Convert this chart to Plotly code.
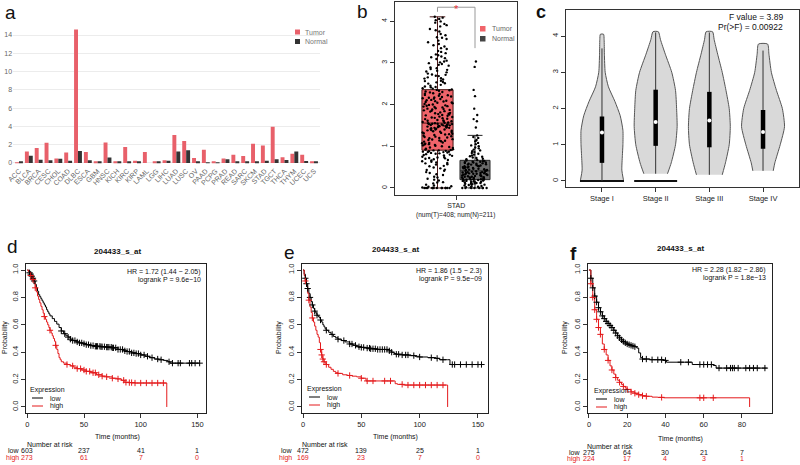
import plotly.graph_objects as go
import numpy as np

W, H = 800, 465
FONT = "Liberation Sans"


def px(x):
    return x / W


def py(y):
    return 1 - y / H


# ---------------- Panel a data ----------------
cancers = ["ACC", "BLCA", "BRCA", "CESC", "CHOL", "COAD", "DLBC", "ESCA", "GBM", "HNSC",
           "KICH", "KIRC", "KIRP", "LAML", "LGG", "LIHC", "LUAD", "LUSC", "OV", "PAAD",
           "PCPG", "PRAD", "READ", "SARC", "SKCM", "STAD", "TGCT", "THCA", "THYM", "UCEC", "UCS"]
tumor_expr = [0.06, 1.25, 1.65, 2.2, 0.5, 1.15, 14.6, 1.2, 0.15, 2.25, 0.12, 1.75, 0.25, 1.2,
              0.1, 0.3, 3.05, 2.4, 0.55, 1.45, 0.08, 0.5, 0.9, 0.75, 2.1, 1.9, 3.95, 0.62,
              1.0, 0.9, 0.18]
normal_expr = [0.1, 0.8, 0.35, 0.3, 0.45, 0.25, 1.3, 0.3, 0.1, 0.6, 0.1, 0.15, 0.15, 0.0,
               0.08, 0.25, 1.25, 1.4, 0.15, 0.05, 0.05, 0.4, 0.2, 0.15, 0.1, 0.25, 0.4, 0.33,
               1.25, 0.22, 0.16]
a_yticks = [0, 2, 4, 6, 8, 10, 12, 14]

# ---------------- Panel b data (STAD) ----------------
stad_tumor = [0, 0, 0, 0, 0, 0, 0, 0, 0.03, 0.06, 0.11, 0.13, 0.18, 0.22, 0.27, 0.33, 0.36,
              0.41, 0.44, 0.49, 0.52, 0.57, 0.59, 0.61, 0.64, 0.66, 0.69, 0.71, 0.73, 0.74,
              0.77, 0.79, 0.8, 0.82, 0.83, 0.85, 0.86, 0.87, 0.88, 0.9,
              0, 0, 0, 0, 0, 0.01, 0.04, 0.08, 0.14, 0.2, 0.25, 0.31, 0.38, 0.43, 0.47, 0.53,
              0.56, 0.6, 0.63, 0.67, 0.7, 0.72, 0.75, 0.78, 0.81, 0.84, 0.86, 0.87, 0.89, 0.9,
              0.92, 0.93, 0.96, 0.97, 1.0, 1.01, 1.03, 1.05, 1.07, 1.08, 1.11, 1.12, 1.15,
              1.16, 1.19, 1.2, 1.23, 1.24, 1.27, 1.28, 1.31, 1.32, 1.35, 1.36, 1.38, 1.4,
              1.41, 1.42, 1.44, 1.44, 1.46, 1.47, 1.48, 1.49, 1.5, 1.51, 1.52, 1.53, 1.54, 1.55,
              0.91, 0.94, 0.98, 1.02, 1.04, 1.06, 1.09, 1.13, 1.14, 1.17, 1.21, 1.22, 1.25,
              1.29, 1.3, 1.33, 1.34, 1.37, 1.39, 1.4, 1.43, 1.45, 1.46, 1.48, 1.5, 1.51, 1.52,
              1.53, 1.54, 1.55,
              1.57, 1.58, 1.61, 1.62, 1.65, 1.66, 1.69, 1.7, 1.73, 1.74, 1.77, 1.79, 1.8,
              1.83, 1.85, 1.86, 1.89, 1.9, 1.93, 1.95, 1.97, 1.98, 2.01, 2.03, 2.05, 2.07,
              2.09, 2.1, 2.13, 2.15, 2.17, 2.18, 2.21, 2.23, 2.25, 2.27, 2.29, 2.31, 2.33, 2.35,
              1.56, 1.59, 1.6, 1.63, 1.67, 1.68, 1.71, 1.75, 1.76, 1.78, 1.81, 1.84, 1.87,
              1.88, 1.91, 1.94, 1.96, 1.99, 2.0, 2.04, 2.06, 2.08, 2.11, 2.14, 2.16, 2.19,
              2.22, 2.26, 2.3, 2.34,
              2.38, 2.41, 2.43, 2.47, 2.5, 2.53, 2.56, 2.57, 2.62, 2.65, 2.68, 2.71, 2.74,
              2.77, 2.81, 2.85, 2.89, 2.93, 2.97, 3.01, 3.05, 3.09, 3.13, 3.18, 3.23, 3.26,
              3.33, 3.39, 3.45, 3.49, 3.57, 3.61, 3.69, 3.75, 3.81, 3.87, 3.93, 3.99, 4.05, 4.1,
              2.36, 2.39, 2.42, 2.45, 2.51, 2.54, 2.6, 2.63, 2.69, 2.72, 2.79, 2.83, 2.87,
              2.95, 2.99, 3.03, 3.11, 3.15, 3.2, 3.28, 3.35, 3.42, 3.53, 3.6, 3.66, 3.78, 3.9,
              3.96, 4.02, 4.08]
stad_normal = [0, 0, 0, 0, 0, 0.02, 0.04, 0.05, 0.07, 0.08, 0.1, 0.11, 0.12, 0.13, 0.14,
               0.15, 0.16, 0.17, 0.18, 0.19,
               0, 0, 0, 0.01, 0.03, 0.06, 0.09, 0.1, 0.12, 0.13, 0.15, 0.17, 0.18, 0.19, 0.2,
               0.2, 0.21, 0.22, 0.23, 0.24, 0.25, 0.26, 0.27, 0.28, 0.29, 0.3, 0.31, 0.32,
               0.33, 0.34, 0.35, 0.36, 0.37, 0.38, 0.39,
               0.21, 0.22, 0.24, 0.25, 0.27, 0.28, 0.3, 0.31, 0.33, 0.34, 0.35, 0.36, 0.37,
               0.38, 0.4,
               0.41, 0.42, 0.43, 0.45, 0.46, 0.47, 0.48, 0.5, 0.51, 0.52, 0.53, 0.55, 0.56,
               0.57, 0.58, 0.6, 0.61, 0.62, 0.63, 0.64,
               0.41, 0.43, 0.44, 0.46, 0.48, 0.49, 0.5, 0.52, 0.54, 0.56, 0.58, 0.59, 0.61,
               0.63, 0.65,
               0.67, 0.7, 0.73, 0.76, 0.8, 0.84, 0.88, 0.92, 0.97, 1.02, 1.08, 1.15, 1.22,
               1.45, 1.6, 1.75, 1.9, 2.2, 2.35, 2.9, 3.03,
               0.66, 0.69, 0.72, 0.75, 0.78, 0.82, 0.86, 0.9, 0.95, 1.0, 1.05, 1.12, 1.2,
               1.26, 1.65]
b_yticks = [0, 1, 2, 3, 4]

# ---------------- Panel c data (stages) ----------------
stages = ["Stage I", "Stage II", "Stage III", "Stage IV"]
violin_levels = [
    [0.03, 0.3, 0.7, 1.0, 1.4, 1.8, 2.2, 2.6, 3.0, 3.5, 3.9, 4.05],
    [0.2, 0.5, 1.0, 1.5, 2.0, 2.5, 3.0, 3.5, 3.9, 4.12],
    [0.17, 0.5, 1.0, 1.5, 2.0, 2.5, 3.0, 3.5, 3.9, 4.12],
    [0.28, 0.5, 1.0, 1.5, 2.0, 2.5, 3.0, 3.5, 3.78],
]
violin_halfwidths = [
    [0.40, 0.37, 0.38, 0.39, 0.39, 0.34, 0.24, 0.12, 0.06, 0.045, 0.04, 0.03],
    [0.22, 0.29, 0.37, 0.40, 0.39, 0.37, 0.30, 0.18, 0.09, 0.05],
    [0.24, 0.30, 0.37, 0.39, 0.37, 0.31, 0.24, 0.155, 0.09, 0.06],
    [0.19, 0.22, 0.32, 0.40, 0.36, 0.25, 0.155, 0.11, 0.085],
]
stage_min = [0.0, 0.2, 0.17, 0.28]
stage_q1 = [0.5, 0.97, 0.93, 0.89]
stage_median = [1.34, 1.63, 1.67, 1.35]
stage_q3 = [1.78, 2.52, 2.46, 1.96]
stage_max = [3.66, 4.1, 4.1, 3.6]
zero_cluster_halfwidth = [0.41, 0.40, 0.0, 0.0]
c_yticks = [0, 1, 2, 3, 4]

# ---------------- KM data ----------------
d_low_t = [0, 1, 2, 3, 4, 5, 6, 7, 8, 9, 10, 11, 12, 13, 14, 15, 16, 17, 18, 19, 20, 22, 24,
           26, 28, 30, 32, 34, 36, 38, 40, 43, 46, 49, 52, 56, 60, 65, 70, 75, 80, 85, 88,
           92, 96, 100, 104, 108, 112, 116, 120, 124, 126, 152]
d_low_s = [1.0, 0.99, 0.98, 0.97, 0.955, 0.94, 0.92, 0.895, 0.87, 0.845, 0.82, 0.805, 0.79,
           0.775, 0.76, 0.745, 0.73, 0.71, 0.695, 0.68, 0.665, 0.645, 0.625, 0.605, 0.58,
           0.555, 0.535, 0.52, 0.51, 0.495, 0.485, 0.475, 0.468, 0.462, 0.455, 0.448, 0.443,
           0.44, 0.437, 0.432, 0.42, 0.41, 0.405, 0.395, 0.39, 0.38, 0.37, 0.36, 0.35, 0.345,
           0.34, 0.33, 0.32, 0.32]
d_high_t = [0, 1, 2, 3, 4, 5, 6, 7, 8, 9, 10, 11, 12, 13, 14, 15, 16, 17, 18, 19, 20, 21, 22,
            23, 24, 25, 26, 27, 28, 29, 30, 32, 35, 38, 41, 44, 48, 52, 56, 61, 66, 70, 75,
            79, 83, 86, 90, 95, 100, 110, 123]
d_high_s = [1.0, 0.99, 0.975, 0.96, 0.945, 0.93, 0.9, 0.87, 0.84, 0.81, 0.785, 0.76, 0.735,
            0.71, 0.685, 0.66, 0.64, 0.62, 0.6, 0.58, 0.56, 0.54, 0.52, 0.5, 0.48, 0.45, 0.42,
            0.39, 0.36, 0.345, 0.33, 0.32, 0.31, 0.3, 0.29, 0.28, 0.27, 0.26, 0.25, 0.235,
            0.225, 0.22, 0.21, 0.205, 0.195, 0.18, 0.178, 0.175, 0.175, 0.175, 0.0]
d_low_cens = [2, 3, 4, 5, 6, 30, 33, 36, 38, 40, 42, 44, 46, 48, 50, 52, 54, 56, 58, 60, 61,
              62, 64, 65, 66, 68, 70, 71, 72, 74, 75, 76, 78, 80, 82, 84, 86, 88, 90, 92, 94,
              96, 98, 100, 103, 106, 110, 115, 118, 125, 128, 133, 135, 143, 145, 148, 152]
d_high_cens = [3, 5, 7, 15, 20, 25, 35, 40, 44, 47, 50, 52, 55, 58, 60, 63, 66, 70, 75, 80,
               85, 87, 90, 92, 95, 100, 105, 110, 115, 120]

e_low_t = [0, 1, 2, 3, 4, 5, 6, 7, 8, 9, 10, 11, 12, 13, 14, 15, 16, 17, 18, 19, 20, 22, 24,
           26, 28, 30, 33, 36, 40, 43, 46, 50, 54, 58, 63, 67, 71, 74, 76, 78, 80, 85, 91,
           96, 100, 107, 114, 117, 124, 126, 154]
e_low_s = [1.0, 0.97, 0.94, 0.9, 0.865, 0.83, 0.8, 0.77, 0.745, 0.72, 0.7, 0.685, 0.67, 0.66,
           0.65, 0.635, 0.62, 0.6, 0.585, 0.57, 0.56, 0.545, 0.53, 0.515, 0.505, 0.495, 0.485,
           0.475, 0.46, 0.45, 0.44, 0.435, 0.43, 0.425, 0.42, 0.42, 0.42, 0.41, 0.4, 0.39,
           0.385, 0.38, 0.375, 0.37, 0.365, 0.36, 0.355, 0.345, 0.345, 0.31, 0.31]
e_high_t = [0, 1, 2, 3, 4, 5, 6, 7, 8, 9, 10, 11, 12, 13, 14, 15, 16, 17, 18, 19, 20, 22, 24,
            26, 28, 30, 34, 38, 42, 46, 50, 54, 60, 70, 77, 79, 81, 86, 124]
e_high_s = [1.0, 0.96, 0.92, 0.88, 0.83, 0.78, 0.73, 0.69, 0.65, 0.62, 0.59, 0.56, 0.53, 0.51,
            0.47, 0.42, 0.38, 0.35, 0.33, 0.32, 0.31, 0.29, 0.275, 0.26, 0.25, 0.245, 0.235,
            0.23, 0.225, 0.22, 0.21, 0.19, 0.19, 0.19, 0.19, 0.17, 0.165, 0.16, 0.0]
e_low_cens = [2, 3, 4, 6, 8, 10, 12, 15, 20, 25, 30, 35, 40, 42, 45, 48, 50, 52, 55, 57, 58,
              60, 62, 64, 66, 68, 70, 72, 74, 76, 80, 82, 85, 88, 90, 95, 100, 110, 115, 120,
              128, 130, 135, 140, 145, 150, 153]
e_high_cens = [2, 5, 8, 15, 16, 17, 18, 20, 30, 40, 50, 55, 60, 70, 75, 85, 90, 95, 100, 105,
               110, 115, 120]

f_low_t = [0, 1, 2, 3, 4, 5, 6, 7, 8, 9, 10, 11, 12, 13, 14, 15, 16, 17, 18, 19, 20, 21, 22,
           23, 24, 25, 26, 27, 28, 32, 39, 40.5, 51, 54, 65, 66.5, 93]
f_low_s = [1.0, 0.94, 0.87, 0.81, 0.765, 0.725, 0.695, 0.665, 0.645, 0.625, 0.61, 0.595, 0.58,
           0.56, 0.54, 0.52, 0.505, 0.49, 0.478, 0.468, 0.46, 0.455, 0.45, 0.445, 0.44, 0.43,
           0.395, 0.36, 0.35, 0.345, 0.34, 0.327, 0.327, 0.31, 0.303, 0.284, 0.284]
f_high_t = [0, 1, 2, 3, 4, 5, 6, 7, 8, 9, 10, 11, 12, 13, 14, 15, 16, 17, 18, 19, 20, 22, 24,
            26, 28, 30, 33, 36, 39, 84]
f_high_s = [1.0, 0.9, 0.8, 0.71, 0.64, 0.58, 0.53, 0.46, 0.42, 0.38, 0.34, 0.3, 0.27, 0.24,
            0.215, 0.195, 0.18, 0.165, 0.15, 0.138, 0.128, 0.11, 0.1, 0.09, 0.082, 0.078,
            0.072, 0.07, 0.067, 0.0]
f_low_cens = [1, 2, 3, 4, 5, 6, 7, 8, 9, 10, 11, 12, 13, 14, 15, 16, 17, 18, 19, 20, 21, 22,
              23, 24, 28, 30, 33, 36, 38, 40, 48, 52, 58, 60, 62, 64, 68, 72, 74, 75, 76, 78,
              82, 84, 86, 88, 92]
f_high_cens = [1, 2, 3, 4, 5, 6, 8, 10, 12, 14, 16, 18, 20, 22, 24, 26, 28, 30, 38, 58, 60, 65]

d_risk_t = [0, 50, 100, 150]
d_risk_low = [603, 237, 41, 1]
d_risk_high = [273, 61, 7, 0]
e_risk_t = [0, 50, 100, 150]
e_risk_low = [472, 139, 25, 1]
e_risk_high = [169, 23, 7, 0]
f_risk_t = [0, 20, 40, 60, 80]
f_risk_low = [275, 64, 30, 21, 7]
f_risk_high = [224, 17, 4, 3, 1]

probe = "204433_s_at"
hr_texts = [("HR = 1.72 (1.44 − 2.05)", "logrank P = 9.6e−10"),
            ("HR = 1.86 (1.5 − 2.3)", "logrank P = 9.5e−09"),
            ("HR = 2.28 (1.82 − 2.86)", "logrank P = 1.8e−13")]

RED_BAR = "#E8606A"
DARK_BAR = "#333333"
KM_RED = "#E41A1C"

fig = go.Figure()
annotations = []
shapes = []


def ann(text, x, y, size=8, color="#222", xanchor="center", yanchor="middle", bold=False,
        textangle=0, xref="paper", yref="paper"):
    if bold:
        text = "<b>" + text + "</b>"
    annotations.append(dict(text=text, x=x, y=y, xref=xref, yref=yref, showarrow=False,
                            xanchor=xanchor, yanchor=yanchor, textangle=textangle,
                            font=dict(family=FONT, size=size, color=color)))


# ---------------- Panel a ----------------
fig.add_trace(go.Bar(x=cancers, y=tumor_expr, marker=dict(color=RED_BAR, line=dict(width=0)),
                     xaxis="x", yaxis="y", showlegend=False))
fig.add_trace(go.Bar(x=cancers, y=normal_expr, marker=dict(color=DARK_BAR, line=dict(width=0)),
                     xaxis="x", yaxis="y", showlegend=False))

# ---------------- Panel b ----------------
fig.add_trace(go.Box(y=stad_tumor, x0=1, width=0.83, boxpoints="all", jitter=1, pointpos=0,
                     fillcolor="#F0646A", line=dict(color="#4a1515", width=1),
                     marker=dict(color="black", size=2.4), xaxis="x2", yaxis="y2",
                     showlegend=False, hoverinfo="skip"))
fig.add_trace(go.Box(y=stad_normal, x0=2, width=0.8, boxpoints="all", jitter=1, pointpos=0,
                     fillcolor="#6a6a6a", line=dict(color="#262626", width=1),
                     marker=dict(color="black", size=2.4), xaxis="x2", yaxis="y2",
                     showlegend=False, hoverinfo="skip"))

# ---------------- Panel c ----------------
for i, st in enumerate(stages):
    c = i + 1
    lv = violin_levels[i]
    hw = violin_halfwidths[i]
    xs = [c - w for w in hw] + [c + w for w in hw[::-1]]
    ys = lv + lv[::-1]
    fig.add_trace(go.Scatter(x=xs, y=ys, mode="lines", fill="toself", fillcolor="#d9d9d9",
                             line=dict(color="#555555", width=1, shape="spline", smoothing=0.6),
                             xaxis="x3", yaxis="y3", showlegend=False, hoverinfo="skip"))
    if zero_cluster_halfwidth[i] > 0:
        z = zero_cluster_halfwidth[i]
        fig.add_trace(go.Scatter(x=[c - z, c + z], y=[0, 0], mode="lines",
                                 line=dict(color="#111111", width=2.2),
                                 xaxis="x3", yaxis="y3", showlegend=False, hoverinfo="skip"))
    fig.add_trace(go.Scatter(x=[c, c], y=[stage_min[i], stage_max[i]], mode="lines",
                             line=dict(color="#333333", width=1),
                             xaxis="x3", yaxis="y3", showlegend=False, hoverinfo="skip"))
    fig.add_trace(go.Scatter(x=[c, c], y=[stage_q1[i], stage_q3[i]], mode="lines",
                             line=dict(color="black", width=4.5),
                             xaxis="x3", yaxis="y3", showlegend=False, hoverinfo="skip"))
    fig.add_trace(go.Scatter(x=[c], y=[stage_median[i]], mode="markers",
                             marker=dict(color="white", size=4, symbol="circle"),
                             xaxis="x3", yaxis="y3", showlegend=False, hoverinfo="skip"))


# ---------------- KM panels ----------------
def step_at(times, surv, t):
    idx = np.searchsorted(np.array(times), t, side="right") - 1
    idx = np.clip(idx, 0, len(surv) - 1)
    return [surv[k] for k in idx]


km_sets = [
    ("x4", "y4", d_low_t, d_low_s, d_high_t, d_high_s, d_low_cens, d_high_cens),
    ("x5", "y5", e_low_t, e_low_s, e_high_t, e_high_s, e_low_cens, e_high_cens),
    ("x6", "y6", f_low_t, f_low_s, f_high_t, f_high_s, f_low_cens, f_high_cens),
]
for xa, ya, lt, ls, ht, hs, lc, hc in km_sets:
    fig.add_trace(go.Scatter(x=lt, y=ls, mode="lines", line=dict(color="black", width=1, shape="hv"),
                             xaxis=xa, yaxis=ya, showlegend=False, hoverinfo="skip"))
    fig.add_trace(go.Scatter(x=ht, y=hs, mode="lines", line=dict(color=KM_RED, width=1, shape="hv"),
                             xaxis=xa, yaxis=ya, showlegend=False, hoverinfo="skip"))
    fig.add_trace(go.Scatter(x=lc, y=step_at(lt, ls, lc), mode="markers",
                             marker=dict(symbol="cross-thin", size=4.5, line=dict(color="black", width=1)),
                             xaxis=xa, yaxis=ya, showlegend=False, hoverinfo="skip"))
    hc_valid = [t for t in hc if t < ht[-1]]
    fig.add_trace(go.Scatter(x=hc_valid, y=step_at(ht, hs, hc_valid), mode="markers",
                             marker=dict(symbol="cross-thin", size=4.5, line=dict(color=KM_RED, width=1)),
                             xaxis=xa, yaxis=ya, showlegend=False, hoverinfo="skip"))

# ---------------- Layout axes ----------------
tickfont_a = dict(family=FONT, size=7, color="#666666")
tickfont_r = dict(family=FONT, size=7.5, color="#222222")

layout = dict(
    width=W, height=H, margin=dict(l=0, r=0, t=0, b=0),
    paper_bgcolor="white", plot_bgcolor="white", template="none",
    barmode="group", bargap=0.2, bargroupgap=0.0, boxmode="overlay",
    showlegend=False,
)
# a
layout["xaxis"] = dict(domain=[px(13.1), px(319.9)], type="category", tickangle=-45,
                       tickfont=tickfont_a, showgrid=False, zeroline=False, showline=False,
                       ticks="", anchor="y", automargin=False, range=[-0.6, 30.6])
layout["yaxis"] = dict(domain=[py(164.8), py(21.3)], range=[-0.2, 15.5], tickvals=a_yticks,
                       tickfont=tickfont_a, showgrid=True, gridcolor="#ececec", gridwidth=1,
                       zeroline=False, showline=False, ticks="", anchor="x", automargin=False)
# b
frame = dict(showline=True, mirror=True, linecolor="#333333", linewidth=1, zeroline=False,
             showgrid=False, ticks="outside", ticklen=4, tickcolor="#333333", automargin=False)
layout["xaxis2"] = dict(domain=[px(395), px(517)], range=[-0.133, 3.12], tickvals=[1.5],
                        ticktext=["STAD"], tickfont=dict(family=FONT, size=7, color="#222"),
                        anchor="y2", **frame)
layout["yaxis2"] = dict(domain=[py(195), py(2)], range=[-0.168, 4.455], tickvals=b_yticks,
                        tickangle=-90, tickfont=dict(family=FONT, size=7, color="#222"),
                        anchor="x2", **frame)
# c
frame_c = dict(frame)
frame_c["linewidth"] = 1.3
layout["xaxis3"] = dict(domain=[px(566), px(799)], range=[0.33, 4.67], tickvals=[1, 2, 3, 4],
                        ticktext=stages, tickfont=dict(family=FONT, size=7.5, color="#222"),
                        anchor="y3", **frame_c)
layout["yaxis3"] = dict(domain=[py(187), py(10)], range=[-0.166, 4.72], tickvals=c_yticks,
                        tickangle=-90, tickfont=dict(family=FONT, size=7.5, color="#222"),
                        anchor="x3", **frame_c)
# KM
km_geom = [
    ("xaxis4", "yaxis4", "x4", "y4", 26, 206, [-1.15, 157.6], [0, 50, 100, 150]),
    ("xaxis5", "yaxis5", "x5", "y5", 302, 488, [-0.86, 158.6], [0, 50, 100, 150]),
    ("xaxis6", "yaxis6", "x6", "y6", 588, 772, [-0.5, 95.7], [0, 20, 40, 60, 80]),
]
frame_k = dict(frame)
frame_k["linecolor"] = "#222222"
for xk, yk, xr, yr, x0, x1, xrange, xt in km_geom:
    layout[xk] = dict(domain=[px(x0), px(x1)], range=xrange, tickvals=xt, tickfont=tickfont_r,
                      anchor=yr, **frame_k)
    layout[yk] = dict(domain=[py(413), py(264)], range=[-0.044, 1.044],
                      tickvals=[0, 0.2, 0.4, 0.6, 0.8, 1.0],
                      ticktext=["0.0", "0.2", "0.4", "0.6", "0.8", "1.0"], tickangle=-90,
                      tickfont=tickfont_r, anchor=xr, **frame_k)

# ---------------- Annotations & legend keys ----------------
ann("a", px(10), py(13), size=19, color="#111")
ann("b", px(362), py(11), size=19, color="#111")
ann("c", px(541), py(12), size=18, color="#111", bold=True)
ann("d", px(12), py(246), size=19, color="#111")
ann("e", px(289), py(252), size=19, color="#111")
ann("f", px(573), py(253), size=19, color="#111", bold=True)

# panel a legend
shapes.append(dict(type="rect", xref="paper", yref="paper", x0=px(295), x1=px(300),
                   y0=py(34.5), y1=py(29.5), fillcolor=RED_BAR, line=dict(width=0)))
shapes.append(dict(type="rect", xref="paper", yref="paper", x0=px(295), x1=px(300),
                   y0=py(44), y1=py(39), fillcolor=DARK_BAR, line=dict(width=0)))
ann("Tumor", px(303), py(32), size=7, color="#777", xanchor="left")
ann("Normal", px(303), py(41.5), size=7, color="#777", xanchor="left")

# panel b legend
shapes.append(dict(type="rect", xref="paper", yref="paper", x0=px(480), x1=px(485.5),
                   y0=py(31.5), y1=py(26), fillcolor="#F0646A", line=dict(width=0)))
shapes.append(dict(type="rect", xref="paper", yref="paper", x0=px(480), x1=px(485.5),
                   y0=py(41.5), y1=py(36), fillcolor="#444444", line=dict(width=0)))
ann("Tumor", px(490), py(28.5), size=7, color="#666", xanchor="left")
ann("Normal", px(490), py(38.5), size=7, color="#666", xanchor="left")
for (bx0, by0, bx1, by1) in [(1, 4.33, 2, 4.33), (2, 4.33, 2, 3.35), (1, 4.33, 1, 4.22)]:
    shapes.append(dict(type="line", xref="x2", yref="y2", x0=bx0, y0=by0, x1=bx1, y1=by1,
                       line=dict(color="#999999", width=1)))
ann("*", 1.5, 4.28, size=11, color="#E8343A", xref="x2", yref="y2")
ann("(num(T)=408; num(N)=211)", px(456), py(215), size=6.5, color="#222")

# panel c stats
ann("F value = 3.89", px(785), py(16.5), size=8.5, color="#111", xanchor="right")
ann("Pr(>F) = 0.00922", px(785), py(27), size=8.5, color="#111", xanchor="right")

km_text = [
    (117, 251, 203, 272, 5, 437, 50, 444, 450.5, 457.5, 21, 28, 390, "x4", d_risk_t, d_risk_low, d_risk_high),
    (395, 249, 484, 271, 279, 437, 325, 444, 450.5, 457.5, 294, 305, 389, "x5", e_risk_t, e_risk_low, e_risk_high),
    (680, 248, 768, 270, 565, 439, 610, 446, 452, 458.5, 582, 592, 391, "x6", f_risk_t, f_risk_low, f_risk_high),
]
for k, (tx, ty, hx, hy, prx, tmy, nx, ny, rl, rh, lx, gx, gy, xr, rt, rlow, rhigh) in enumerate(km_text):
    ann(probe, px(tx), py(ty), size=8, color="#111", bold=True)
    ann(hr_texts[k][0], px(hx), py(hy), size=7, color="#111", xanchor="right")
    ann(hr_texts[k][1], px(hx), py(hy + 8), size=7, color="#111", xanchor="right")
    ann("Probability", px(prx), py(338), size=7, color="#111", textangle=-90)
    ann("Time (months)", px(tx), py(tmy), size=7, color="#111")
    ann("Number at risk", px(nx), py(ny), size=7, color="#111")
    ann("low", px(lx), py(rl), size=7, color="#111", xanchor="right")
    ann("high", px(lx), py(rh), size=7, color=KM_RED, xanchor="right")
    for t, nl, nh in zip(rt, rlow, rhigh):
        ann(str(nl), t, py(rl), size=7, color="#111", xref=xr)
        ann(str(nh), t, py(rh), size=7, color=KM_RED, xref=xr)
    ann("Expression", px(gx), py(gy), size=7, color="#111", xanchor="left")
    shapes.append(dict(type="line", xref="paper", yref="paper", x0=px(gx + 4), x1=px(gx + 15),
                       y0=py(gy + 8), y1=py(gy + 8), line=dict(color="black", width=1)))
    shapes.append(dict(type="line", xref="paper", yref="paper", x0=px(gx + 4), x1=px(gx + 15),
                       y0=py(gy + 16), y1=py(gy + 16), line=dict(color=KM_RED, width=1)))
    ann("low", px(gx + 20), py(gy + 8), size=7, color="#111", xanchor="left")
    ann("high", px(gx + 20), py(gy + 16), size=7, color="#111", xanchor="left")

layout["annotations"] = annotations
layout["shapes"] = shapes
fig.update_layout(**layout)
fig.write_html("out.html", config={"displayModeBar": False},
               post_script="document.body.style.margin='0';document.body.style.overflow='hidden';")
